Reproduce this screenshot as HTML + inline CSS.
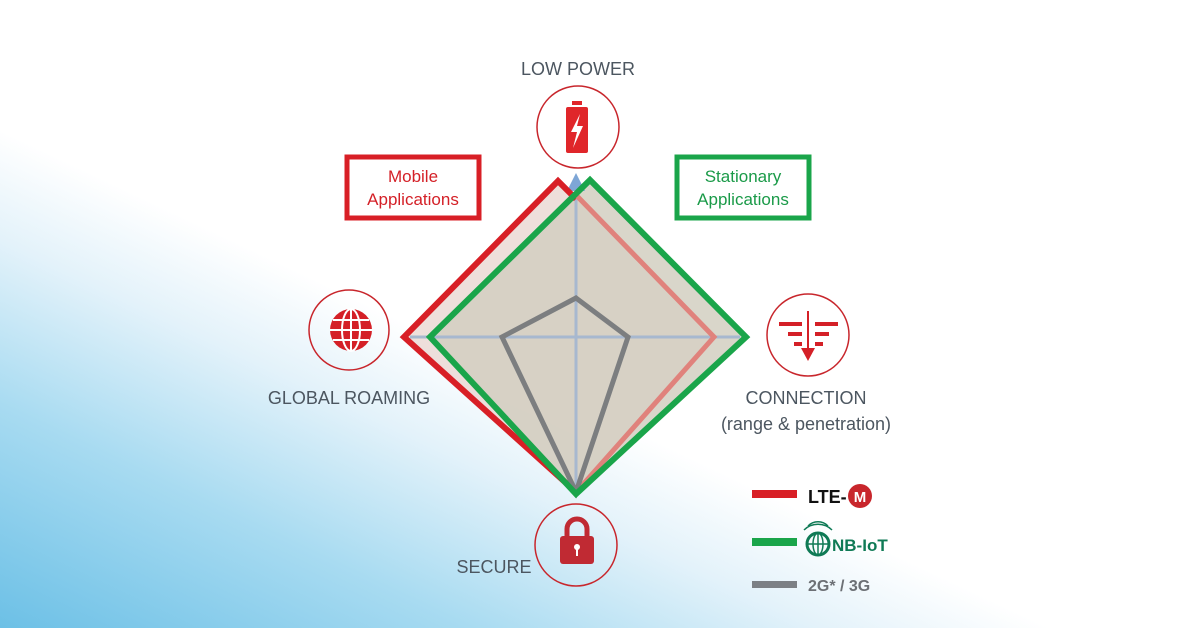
<!DOCTYPE html>
<html><head><meta charset="utf-8"><style>
html,body{margin:0;padding:0;background:#fff;}
body{width:1200px;height:628px;overflow:hidden;font-family:"Liberation Sans",sans-serif;}
</style></head><body>
<svg width="1200" height="628" viewBox="0 0 1200 628" xmlns="http://www.w3.org/2000/svg" style="position:absolute;left:0;top:0">
<defs>
<marker id="ah" markerWidth="6" markerHeight="6" refX="3" refY="3" orient="auto"><path d="M0,0 L6,3 L0,6z" fill="#7ea6d6"/></marker>
<linearGradient id="bg" gradientUnits="userSpaceOnUse" x1="525" y1="379" x2="332" y2="786">
<stop offset="0" stop-color="#ffffff"/>
<stop offset="0.22" stop-color="#e3f2fa"/>
<stop offset="0.55" stop-color="#a8dbf1"/>
<stop offset="1" stop-color="#6cc0e6"/>
</linearGradient>
</defs>
<rect width="1200" height="628" fill="url(#bg)"/>
<polygon points="558,181 404,337 576,492 714,337 576,195" fill="#ead7d2" opacity="0.8"/>
<polygon points="590,180 430,337 576,492 746,337" fill="#d2cfc1" opacity="0.85"/>
<line x1="576" y1="492" x2="576" y2="182" stroke="#a7b8cf" stroke-width="3" marker-end="url(#ah)"/>
<line x1="410" y1="337" x2="740" y2="337" stroke="#a7b8cf" stroke-width="3"/>
<polyline points="576,492 404,337 558,181 576,199" fill="none" stroke="#d81f26" stroke-width="6" stroke-linejoin="miter"/>
<polyline points="576,195 714,337 578,490" fill="none" stroke="#e0827c" stroke-width="5"/>
<polygon points="576,298 628,337 576,492 502,337" fill="none" stroke="#7c7e80" stroke-width="5"/>
<polygon points="590,180 746,337 576,494 430,337" fill="none" stroke="#1aa54a" stroke-width="6"/>
<g fill="none" stroke="#c8262c" stroke-width="1.5">
<circle cx="578" cy="127" r="41"/>
<circle cx="349" cy="330" r="40"/>
<circle cx="808" cy="335" r="41"/>
<circle cx="576" cy="545" r="41"/>
</g>
<rect x="572" y="101" width="10" height="4" fill="#e0262a"/>
<rect x="566" y="107" width="22" height="46" rx="2" fill="#e0262a"/>
<path d="M580,114 L571,132 L577,132 L573,148 L583,126 L577,126 Z" fill="#fff"/>
<circle cx="351" cy="330" r="21" fill="#d42027"/>
<g stroke="#fff" stroke-width="2" fill="none">
<ellipse cx="351" cy="330" rx="9" ry="21"/>
<line x1="351" y1="309" x2="351" y2="351"/>
<line x1="330" y1="330" x2="372" y2="330"/>
<line x1="333" y1="320" x2="369" y2="320"/>
<line x1="333" y1="340" x2="369" y2="340"/>
</g>
<g fill="#d42027">
<rect x="779" y="322" width="23" height="4"/><rect x="815" y="322" width="23" height="4"/>
<rect x="788" y="332" width="14" height="4"/><rect x="815" y="332" width="14" height="4"/>
<rect x="794" y="342" width="8" height="4"/><rect x="815" y="342" width="8" height="4"/>
<rect x="807" y="311" width="2" height="38"/>
<path d="M801,348 L815,348 L808,361 Z"/>
</g>
<path d="M567,538 v-9 a10,10 0 0 1 20,0 v9" fill="none" stroke="#c02a33" stroke-width="5"/>
<rect x="560" y="536" width="34" height="28" rx="3" fill="#c02a33"/>
<circle cx="577" cy="547" r="3" fill="#fff"/><rect x="576" y="548" width="2" height="8" fill="#fff"/>
<rect x="347" y="157" width="132" height="61" fill="#fff" stroke="#d81f26" stroke-width="5"/>
<rect x="677" y="157" width="132" height="61" fill="#fff" stroke="#1aa54a" stroke-width="5"/>
<g font-family="Liberation Sans, sans-serif" font-size="17" text-anchor="middle">
<text x="413" y="182" fill="#d42027">Mobile</text>
<text x="413" y="205" fill="#d42027">Applications</text>
<text x="743" y="182" fill="#1a9a48">Stationary</text>
<text x="743" y="205" fill="#1a9a48">Applications</text>
</g>
<g font-family="Liberation Sans, sans-serif" font-size="18" fill="#4c5660">
<text x="578" y="75" text-anchor="middle">LOW POWER</text>
<text x="349" y="404" text-anchor="middle">GLOBAL ROAMING</text>
<text x="806" y="404" text-anchor="middle">CONNECTION</text>
<text x="806" y="430" text-anchor="middle">(range &amp; penetration)</text>
<text x="494" y="573" text-anchor="middle">SECURE</text>
</g>
<rect x="752" y="490" width="45" height="8" fill="#d81f26"/>
<rect x="752" y="538" width="45" height="8" fill="#1aa54a"/>
<rect x="752" y="581" width="45" height="7" fill="#7c8085"/>
<text x="808" y="503" font-family="Liberation Sans, sans-serif" font-size="18" font-weight="bold" fill="#111">LTE-</text>
<circle cx="860" cy="496" r="12" fill="#c8262c"/>
<text x="860" y="502" font-family="Liberation Sans, sans-serif" font-size="15" font-weight="bold" fill="#fff" text-anchor="middle">M</text>
<circle cx="818" cy="544" r="11" fill="none" stroke="#0f7a55" stroke-width="3"/>
<g stroke="#0f7a55" stroke-width="1.5" fill="none">
<line x1="807" y1="544" x2="829" y2="544"/><line x1="818" y1="533" x2="818" y2="555"/>
<ellipse cx="818" cy="544" rx="5" ry="11"/>
<path d="M804,530 a20,20 0 0 1 28,0"/><path d="M808,526 a14,14 0 0 1 20,0"/>
</g>
<text x="832" y="551" font-family="Liberation Sans, sans-serif" font-size="17" font-weight="bold" fill="#0f7a55">NB-IoT</text>
<text x="808" y="591" font-family="Liberation Sans, sans-serif" font-size="16" font-weight="bold" fill="#6c7075">2G* / 3G</text>
</svg>
</body></html>
